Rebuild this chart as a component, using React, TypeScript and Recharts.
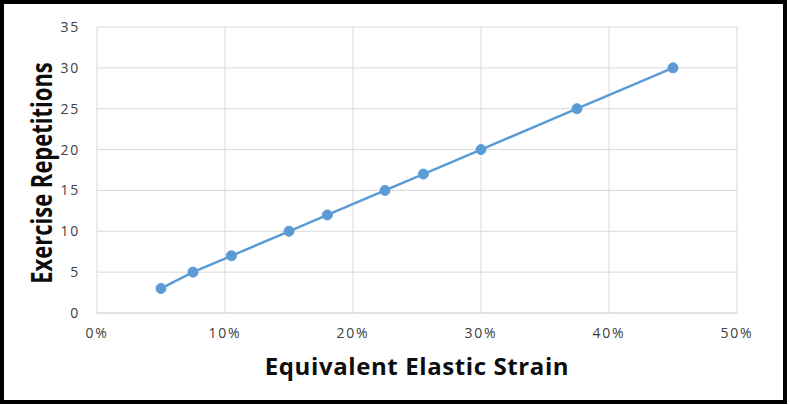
import { LineChart, Line, CartesianGrid, XAxis, YAxis, Label } from 'recharts'

const strain = [0.05, 0.075, 0.105, 0.15, 0.18, 0.225, 0.255, 0.3, 0.375, 0.45]
const repetitions = [3, 5, 7, 10, 12, 15, 17, 20, 25, 30]
const xTicks = [0, 0.1, 0.2, 0.3, 0.4, 0.5]
const yTicks = [0, 5, 10, 15, 20, 25, 30, 35]

const data = strain.map((s, i) => ({ strain: s, reps: repetitions[i] }))

const tickStyle = { fill: '#404040', fontSize: 14, fontFamily: 'Open Sans', letterSpacing: 1.8 }

export default function App() {
  return (
    <div style={{ position: 'absolute', left: 0, top: 0, width: 790, height: 405, background: '#fff' }}>
      <LineChart width={790} height={405} data={data} margin={{ top: 27, right: 53, bottom: 0, left: 20 }}>
        <CartesianGrid stroke="#d9d9d9" strokeWidth={1} />
        <XAxis
          dataKey="strain"
          type="number"
          domain={[0, 0.5]}
          ticks={xTicks}
          tickFormatter={(v: number) => `${Math.round(v * 100)}%`}
          axisLine={{ stroke: '#d9d9d9' }}
          tickLine={false}
          tickSize={0}
          tickMargin={15}
          height={92}
          tick={tickStyle}
        >
          <Label
            content={({ viewBox }: any) => (
              <text
                x={viewBox.x + viewBox.width / 2}
                y={viewBox.y + 62}
                textAnchor="middle"
                fontFamily="Open Sans"
                fontWeight="bold"
                fontSize={24}
                letterSpacing={0.6}
                fill="#0d0d0d"
              >
                Equivalent Elastic Strain
              </text>
            )}
          />
        </XAxis>
        <YAxis
          type="number"
          domain={[0, 35]}
          ticks={yTicks}
          axisLine={false}
          tickLine={false}
          tickSize={0}
          tickMargin={17}
          width={77}
          tick={tickStyle}
        >
          <Label
            content={({ viewBox }: any) => {
              const bx = viewBox.x + 32
              const cy = viewBox.y + viewBox.height / 2 + 3
              return (
                <text
                  x={0}
                  y={0}
                  transform={`translate(${bx} ${cy}) rotate(-90) scale(1 1.3)`}
                  textAnchor="middle"
                  fontFamily="Open Sans"
                  fontWeight="bold"
                  fontSize={22}
                  fill="#0d0d0d"
                >
                  Exercise Repetitions
                </text>
              )
            }}
          />
        </YAxis>
        <Line
          dataKey="reps"
          stroke="#5b9bd5"
          strokeWidth={2.5}
          dot={{ r: 5, fill: '#5b9bd5', stroke: '#5b9bd5', strokeWidth: 1 }}
          isAnimationActive={false}
        />
      </LineChart>
      <div
        style={{
          position: 'absolute',
          left: 0,
          top: 0,
          width: 787,
          height: 404,
          border: '4px solid #000',
          boxSizing: 'border-box',
          pointerEvents: 'none',
        }}
      />
    </div>
  )
}
